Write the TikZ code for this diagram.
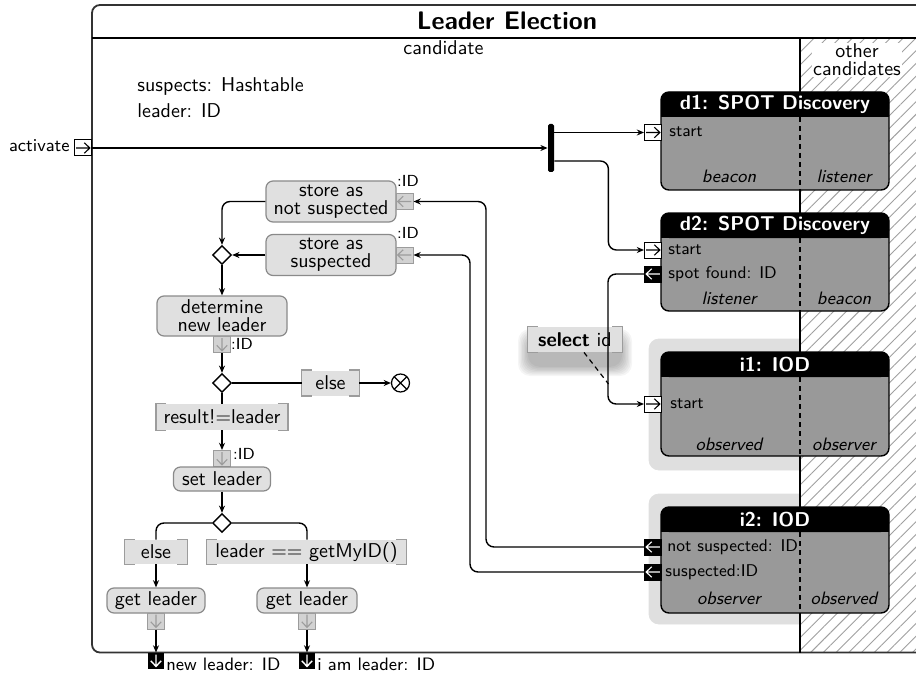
\documentclass[tikz,border=0pt]{standalone}
\usepackage{fontspec}
\usetikzlibrary{arrows.meta,shapes.geometric,patterns.meta}
\definecolor{compgray}{HTML}{999999}
\definecolor{actfill}{HTML}{E0E0E0}
\definecolor{actdraw}{HTML}{8A8A8A}
\definecolor{contfill}{HTML}{DFDFDF}
\definecolor{pinfill}{HTML}{D2D2D2}
\definecolor{pindraw}{HTML}{9C9C9C}
\definecolor{hatchgray}{HTML}{A0A0A0}
\tikzset{
  flow/.style={line width=0.7pt, -{Stealth[length=3.6pt,width=3pt]}},
  link/.style={line width=0.7pt},
  action/.style={draw=actdraw, fill=actfill, rounded corners=3.5pt, line width=0.6pt, align=center, inner sep=0pt, font=\sffamily\fontsize{10}{9}\selectfont},
  guard/.style={fill=actfill, inner sep=0pt, font=\sffamily\normalsize},
  brk/.style={draw=pindraw, line width=0.8pt},
  role/.style={font=\sffamily\small\itshape, inner sep=0pt},
  plbl/.style={font=\sffamily\fontsize{8.5}{10}\selectfont, inner sep=0pt, anchor=west},
  idlbl/.style={font=\sffamily\footnotesize, inner sep=0pt},
  pinbase/.style={minimum width=8.5pt, minimum height=8pt, inner sep=0pt, line width=0.5pt},
  pinW/.style={pinbase, draw=black, fill=white},
  pinB/.style={pinbase, draw=black, fill=black},
  pinG/.style={pinbase, draw=pindraw, fill=pinfill},
  glyphR/.style={path picture={\draw[line width=0.55pt, black]
      ([xshift=0.8pt]path picture bounding box.west) -- ([xshift=-0.8pt]path picture bounding box.east)
      ++(-2.8pt,2.6pt) -- ([xshift=-0.8pt]path picture bounding box.east) -- ++(-2.8pt,-2.6pt);}},
  glyphLW/.style={path picture={\draw[line width=0.55pt, white]
      ([xshift=-0.8pt]path picture bounding box.east) -- ([xshift=0.8pt]path picture bounding box.west)
      ++(2.8pt,2.6pt) -- ([xshift=0.8pt]path picture bounding box.west) -- ++(2.8pt,-2.6pt);}},
  glyphLG/.style={path picture={\draw[line width=0.55pt, pindraw]
      ([xshift=-0.8pt]path picture bounding box.east) -- ([xshift=0.8pt]path picture bounding box.west)
      ++(2.8pt,2.6pt) -- ([xshift=0.8pt]path picture bounding box.west) -- ++(2.8pt,-2.6pt);}},
  glyphDG/.style={path picture={\draw[line width=0.55pt, pindraw]
      ([yshift=-0.8pt]path picture bounding box.north) -- ([yshift=0.8pt]path picture bounding box.south)
      ++(-2.6pt,2.8pt) -- ([yshift=0.8pt]path picture bounding box.south) -- ++(2.6pt,2.8pt);}},
  glyphDW/.style={path picture={\draw[line width=0.7pt, white]
      ([yshift=-0.8pt]path picture bounding box.north) -- ([yshift=0.8pt]path picture bounding box.south)
      ++(-2.6pt,2.8pt) -- ([yshift=0.8pt]path picture bounding box.south) -- ++(2.6pt,2.8pt);}},
  merge/.style={diamond, draw, fill=white, line width=0.7pt, minimum size=9.5pt, inner sep=0pt},
}
\newcommand\brk[1]{%
  \draw[brk] ([xshift=5pt]#1.north west) -- (#1.north west) -- (#1.south west) -- ([xshift=5pt]#1.south west);
  \draw[brk] ([xshift=-5pt]#1.north east) -- (#1.north east) -- (#1.south east) -- ([xshift=-5pt]#1.south east);}
\newcommand\compbox[7]{%
  \fill[compgray, rounded corners=4pt] (661,#2) rectangle (889,#3);
  \fill[black, rounded corners=4pt] (661,#2) rectangle (889,{#2+25});
  \fill[black] (661,{#2+12}) rectangle (889,{#2+25});
  \draw[line width=0.7pt, dash pattern=on 2.5pt off 2pt] (800,{#2+25}) -- (800,#3);
  \draw[line width=0.7pt, rounded corners=4pt] (661,#2) rectangle (889,#3);
  \node[font=\sffamily\bfseries, text=white, inner sep=0pt] (#1) at (775,{#2+12.5}) {#4};
  \node[role] (#1-l) at (729,#7) {#5};
  \node[role] (#1-r) at (844,#7) {#6};
}
\begin{document}
\begin{tikzpicture}[x=0.5pt, y=-0.5pt, font=\sffamily]
\useasboundingbox (0,0) rectangle (916,674);

% containers of i1 and i2
\fill[contfill, draw=black!12, rounded corners=5pt] (649,339) rectangle (830,470);
\fill[contfill, draw=black!12, rounded corners=5pt] (649,494) rectangle (830,624);

% other candidates lane (hatched)
\fill[white] (800,38) rectangle (930,652.5);
\fill[pattern={Lines[angle=45,distance=4.5pt,line width=0.45pt]}, pattern color=hatchgray] (800,38) rectangle (930,652.5);

% frame
\draw[line width=0.9pt, black!80, rounded corners=4pt] (930,5) -- (92,5) -- (92,652.5) -- (930,652.5);
\draw[line width=1.1pt] (92,38) -- (930,38);
\draw[line width=0.9pt] (800,38) -- (800,652.5);

\node[font=\sffamily\bfseries\fontsize{12.7}{15}\selectfont] (title) at (507,21) {Leader Election};
\node[inner sep=0pt] (lanec) at (443.5,48) {candidate};
\node[fill=white, inner sep=0.5pt, align=center, font=\sffamily\fontsize{10}{9}\selectfont] (laneo) at (857,60) {other\\candidates};

\node[inner sep=0pt, anchor=west] (var1) at (137,87) {suspects: Hashtable};
\node[inner sep=0pt, anchor=west] (var2) at (137,111) {leader: ID};

% activate
\node[pinW, glyphR] (act) at (83,148) {};
\node[font=\sffamily\small, inner sep=0pt, anchor=east] (actl) at (70,146) {activate};
\node[fill=black, minimum width=3pt, minimum height=24pt, inner sep=0pt, rounded corners=0.8pt] (fork) at (551,148) {};

% components
\compbox{d1}{92}{190}{d1: SPOT Discovery}{beacon}{listener}{176}
\compbox{d2}{213}{311}{d2: SPOT Discovery}{listener}{beacon}{298}
\compbox{i1}{352}{456}{i1: IOD}{observed}{observer}{444}
\compbox{i2}{507}{613}{i2: IOD}{observer}{observed}{598}

\node[pinW, glyphR] (d1start) at (653,132.5) {};
\node[plbl] (d1startl) at (669,132) {start};
\node[pinW, glyphR] (d2start) at (653,250) {};
\node[plbl] (d2startl) at (668,250) {start};
\node[pinB, glyphLW] (d2found) at (653,274) {};
\node[plbl] (d2foundl) at (668,274) {spot found: ID};
\node[pinW, glyphR] (i1start) at (653,404) {};
\node[plbl] (i1startl) at (670,404) {start};
\node[pinB, glyphLW] (i2ns) at (653,547) {};
\node[plbl] (i2nsl) at (667,547) {not suspected: ID};
\node[pinB, glyphLW] (i2s) at (653,572) {};
\node[plbl] (i2sl) at (665,572) {suspected:ID};

% left activity flow
\node[action, minimum width=65pt, minimum height=20.5pt] (storeNS) at (331,201.5) {store as\\not suspected};
\node[pinG, glyphLG] (pinNS) at (404.5,201.5) {};
\node[idlbl] (pinNSl) at (408,181) {:ID};
\node[action, minimum width=65pt, minimum height=20.5pt] (storeS) at (331,255) {store as\\suspected};
\node[pinG, glyphLG] (pinS) at (404.5,255) {};
\node[idlbl] (pinSl) at (408,233) {:ID};

\node[merge] (dm1) at (222,255) {};
\node[action, minimum width=65pt, minimum height=20pt] (det) at (222,316) {determine\\new leader};
\node[pinG, glyphDG] (pinDet) at (222,344.5) {};
\node[idlbl] (pinDetl) at (242,344) {:ID};

\node[merge] (dm2) at (222,383) {};
\node[guard, minimum width=28.5pt, minimum height=12.5pt] (else1) at (330.5,383) {else};
\brk{else1}
\node[draw, circle, fill=white, minimum size=9pt, inner sep=0pt, line width=0.6pt,
  path picture={\draw[line width=0.6pt] (path picture bounding box.north west) -- (path picture bounding box.south east)
  (path picture bounding box.north east) -- (path picture bounding box.south west);}] (ff) at (400.5,383) {};

\node[guard, minimum width=65.5pt, minimum height=13pt] (res) at (222,417) {result!=leader};
\brk{res}
\node[pinG, glyphDG] (pinSet) at (222,458.5) {};
\node[idlbl] (pinSetl) at (244,454) {:ID};
\node[action, minimum width=48.5pt, minimum height=12pt] (setl) at (222,479) {set leader};

\node[merge] (dm3) at (222,523) {};
\node[guard, minimum width=31pt, minimum height=12pt] (else2) at (156,552) {else};
\brk{else2}
\node[guard, minimum width=99.5pt, minimum height=12pt] (eq) at (306.5,552) {leader == getMyID()};
\brk{eq}

\node[action, minimum width=49pt, minimum height=12.5pt] (getL1) at (156,600.5) {get leader};
\node[action, minimum width=50pt, minimum height=12.5pt] (getL2) at (307,600.5) {get leader};
\node[pinG, glyphDG] (pinGL1) at (156,621) {};
\node[pinG, glyphDG] (pinGL2) at (307,621) {};
\node[pinB, glyphDW, minimum width=7.5pt, minimum height=7.5pt] (outNL) at (156,660.5) {};
\node[pinB, glyphDW, minimum width=7.5pt, minimum height=7.5pt] (outIAL) at (307,660.5) {};
\node[plbl, font=\sffamily\small] (outNLl) at (166,664) {new leader: ID};
\node[plbl, font=\sffamily\small] (outIALl) at (317,664) {i am leader: ID};

% select id note with soft shadow
\foreach \k in {0,...,7}{
  \fill[black, opacity=0.04, rounded corners=6pt] ({518+\k*1.4},{329+\k*1.3}) rectangle ({632-\k*1.4},{376-\k*1.3});
}
\node[guard, minimum width=47pt, minimum height=12.5pt] (sel) at (575,339.5) {\textbf{select} id};
\brk{sel}

% connectors
\draw[flow] (act.east) -- (fork.west);
\draw[flow] (fork.east |- d1start) -- (d1start.west);
\draw[flow, rounded corners=4pt] ([yshift=-6.5pt]fork.east) -- ++(54,0) |- (d2start.west);
\draw[flow, rounded corners=4pt] (d2found.west) -- ++(-36,0) |- (i1start.west);
\coordinate (selpt) at (608.5,384);
\draw[line width=0.6pt, dash pattern=on 2.5pt off 2pt] ([xshift=4.5pt]sel.south) -- (selpt);
\draw[flow, rounded corners=4pt] (i2ns.west) -- ++(-158,0) |- (pinNS.east);
\draw[flow, rounded corners=4pt] (i2s.west) -- ++(-174,0) |- (pinS.east);

\draw[flow, rounded corners=4pt] (storeNS.west) -| (dm1.north);
\draw[flow] (storeS.west) -- (dm1.east);
\draw[flow] (dm1.south) -- (det.north);
\draw[flow] (pinDet.south) -- (dm2.north);
\draw[link] (dm2.east) -- (else1.west);
\draw[flow] (else1.east) -- (ff.west);
\draw[link] (dm2.south) -- (res.north);
\draw[flow] (res.south) -- (pinSet.north);
\draw[flow] (setl.south) -- (dm3.north);
\draw[link, rounded corners=4pt] (dm3.west) -| (else2.north);
\draw[link, rounded corners=4pt] (dm3.east) -| (eq.north -| getL2);
\draw[flow] (else2.south) -- (getL1.north);
\draw[flow] (eq.south -| getL2) -- (getL2.north);
\draw[flow] (pinGL1.south) -- (outNL.north);
\draw[flow] (pinGL2.south) -- (outIAL.north);
\end{tikzpicture}
\end{document}
